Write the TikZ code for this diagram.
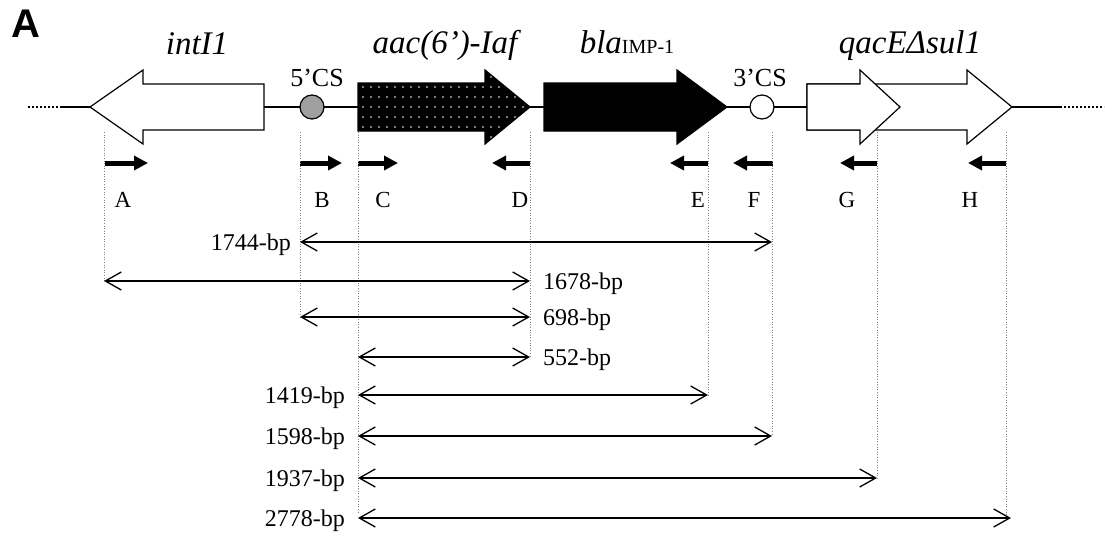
\documentclass[tikz,border=0pt]{standalone}
\usepackage{fontspec}
\setmainfont{Liberation Serif}
\newfontfamily\labelsans{Liberation Sans}
\usetikzlibrary{arrows.meta}
\begin{document}
\begin{tikzpicture}[x=1pt,y=-1pt,
  gene/.style={draw=black,line width=1.2pt,line join=miter},
  genelabel/.style={font=\fontsize{33}{36}\selectfont\itshape,inner sep=0pt,anchor=base},
  cslabel/.style={font=\fontsize{26}{28}\selectfont,inner sep=0pt,anchor=base},
  primerlabel/.style={font=\fontsize{23}{26}\selectfont,inner sep=0pt,anchor=base},
  sizelabel/.style={font=\fontsize{24}{26}\selectfont,inner sep=0pt},
  primer/.style={line width=5pt,-{Triangle[length=14pt,width=14pt]}},
  sizearrow/.style={line width=1.3pt,{Straight Barb[length=16pt,width=18pt,line width=1.3pt]}-{Straight Barb[length=16pt,width=18pt,line width=1.3pt]}},
  guide/.style={gray,line width=0.6pt,dotted},
  backbone/.style={line width=2pt},
  backdots/.style={line width=2pt,dash pattern=on 2pt off 2pt},
]
\useasboundingbox[fill=white] (0,0) rectangle (1105,538);

% panel letter
\node[font=\fontsize{40}{41}\labelsans\bfseries,inner sep=0pt] (panel) at (26,24) {A};

% backbone
\coordinate (bbL0) at (28,107);
\coordinate (bbL1) at (60,107);
\coordinate (bbR1) at (1060,107);
\coordinate (bbR0) at (1104,107);
\draw[backdots] (bbL0) -- (bbL1);
\draw[backbone] (bbL1) -- (bbR1);
\draw[backdots] (bbR1) -- (bbR0);

% genes
\draw[gene,fill=white] (90,107) -- (143,70) -- (143,84) -- (264,84) -- (264,130) -- (143,130) -- (143,144) -- cycle;
\draw[gene,fill=black] (358,83) -- (485,83) -- (485,70) -- (530,107) -- (485,144) -- (485,131) -- (358,131) -- cycle;
\begin{scope}
  \clip (358,83) -- (485,83) -- (485,70) -- (530,107) -- (485,144) -- (485,131) -- (358,131) -- cycle;
  \foreach \x in {363,371,...,531} \foreach \y in {77,87,...,137}
    \fill[white] (\x,\y) circle (0.9);
\end{scope}
\draw[gene,fill=black] (544,83) -- (677,83) -- (677,70) -- (727,107) -- (677,144) -- (677,131) -- (544,131) -- cycle;
\draw[gene,fill=white] (807,84) -- (967,84) -- (967,70) -- (1012,107) -- (967,144) -- (967,130) -- (807,130) -- cycle;
\draw[gene,fill=white] (807,84) -- (860,84) -- (860,70) -- (900,107) -- (860,144) -- (860,130) -- (807,130) -- cycle;

% conserved segments
\node[circle,draw=black,line width=1.2pt,fill=gray!75,minimum size=24pt,inner sep=0pt] (cs5) at (312,107) {};
\node[circle,draw=black,line width=1.2pt,fill=white,minimum size=24pt,inner sep=0pt] (cs3) at (762,107) {};
\node[cslabel] (cs5l) at (317,86) {5’CS};
\node[cslabel] (cs3l) at (760,86) {3’CS};

% gene labels
\node[genelabel] (gintI) at (197,54) {intI1};
\node[genelabel] (gaac) at (445,53) {aac(6’)-Iaf};
\node[genelabel] (gbla) at (627,53) {bla{\upshape\fontsize{20}{22}\selectfont IMP-1}};
\node[genelabel] (gqac) at (910,53) {qacEΔsul1};

% primer sites
\coordinate (pAs) at (105,163); \coordinate (pAe) at (148,163);
\coordinate (pBs) at (300,163); \coordinate (pBe) at (342,163);
\coordinate (pCs) at (358,163); \coordinate (pCe) at (398,163);
\coordinate (pDs) at (530,163); \coordinate (pDe) at (492,163);
\coordinate (pEs) at (708,163); \coordinate (pEe) at (670,163);
\coordinate (pFs) at (773,163); \coordinate (pFe) at (733,163);
\coordinate (pGs) at (877,163); \coordinate (pGe) at (840,163);
\coordinate (pHs) at (1006,163); \coordinate (pHe) at (968,163);
\foreach \p in {A,B,C,D,E,F,G,H}
  \draw[primer] (p\p s) -- (p\p e);

\node[primerlabel] (lA) at (123,207) {A};
\node[primerlabel] (lB) at (322,207) {B};
\node[primerlabel] (lC) at (383,207) {C};
\node[primerlabel] (lD) at (520,207) {D};
\node[primerlabel] (lE) at (698,207) {E};
\node[primerlabel] (lF) at (754,207) {F};
\node[primerlabel] (lG) at (847,207) {G};
\node[primerlabel] (lH) at (970,207) {H};

% guide lines
\coordinate (gAt) at (104,132); \coordinate (gAb) at (104,281);
\coordinate (gBt) at (300,132); \coordinate (gBb) at (300,317);
\coordinate (gCt) at (358,132); \coordinate (gCb) at (358,514);
\coordinate (gDt) at (530,132); \coordinate (gDb) at (530,357);
\coordinate (gEt) at (708,132); \coordinate (gEb) at (708,395);
\coordinate (gFt) at (772,132); \coordinate (gFb) at (772,436);
\coordinate (gGt) at (877,132); \coordinate (gGb) at (877,478);
\coordinate (gHt) at (1006,132); \coordinate (gHb) at (1006,518);
\foreach \p in {A,B,C,D,E,F,G,H}
  \draw[guide] (g\p t) -- (g\p b);

% amplicons
\coordinate (a1l) at (300,242);  \coordinate (a1r) at (772,242);
\coordinate (a2l) at (104,281);  \coordinate (a2r) at (530,281);
\coordinate (a3l) at (300,317);  \coordinate (a3r) at (530,317);
\coordinate (a4l) at (358,357);  \coordinate (a4r) at (530,357);
\coordinate (a5l) at (358,395);  \coordinate (a5r) at (708,395);
\coordinate (a6l) at (358,436);  \coordinate (a6r) at (772,436);
\coordinate (a7l) at (358,478);  \coordinate (a7r) at (877,478);
\coordinate (a8l) at (358,518);  \coordinate (a8r) at (1011,518);
\foreach \i in {1,...,8}
  \draw[sizearrow] (a\i l) -- (a\i r);

\node[sizelabel,anchor=base east] (s1) at (291,250) {1744-bp};
\node[sizelabel,anchor=base west] (s2) at (543,289) {1678-bp};
\node[sizelabel,anchor=base west] (s3) at (543,325) {698-bp};
\node[sizelabel,anchor=base west] (s4) at (543,365) {552-bp};
\node[sizelabel,anchor=base east] (s5) at (345,403) {1419-bp};
\node[sizelabel,anchor=base east] (s6) at (345,444) {1598-bp};
\node[sizelabel,anchor=base east] (s7) at (345,486) {1937-bp};
\node[sizelabel,anchor=base east] (s8) at (345,526) {2778-bp};
\end{tikzpicture}
\end{document}
